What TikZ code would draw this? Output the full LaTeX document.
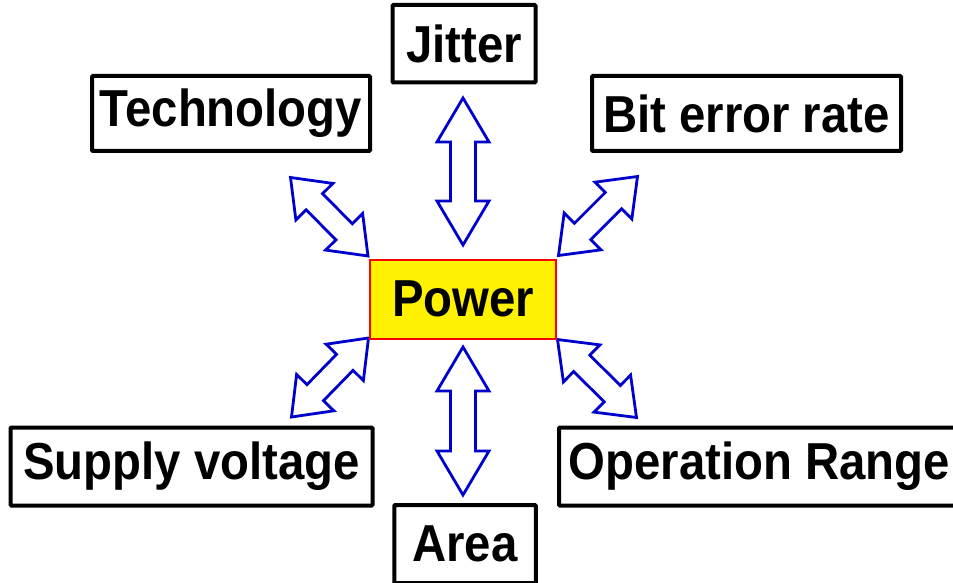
\documentclass[tikz,border=0pt]{standalone}
\usepackage{fontspec}
\setmainfont{Liberation Sans}
\usepackage{graphicx}
\usetikzlibrary{calc}
\definecolor{arrblue}{RGB}{0,0,204}
\newcommand\boxtxt[1]{\scalebox{0.91}[1]{\fontsize{52}{52}\selectfont\bfseries #1}}
% double hollow arrow: #1,#2 tips, #3 head length, #4 head half width, #5 shaft half width
\newcommand\dblarr[5]{%
  \draw[dbl] (#1) -- ($(#1)!#3!(#2)!#4!90:(#2)$) -- ($(#1)!#3!(#2)!#5!90:(#2)$)
    -- ($(#2)!#3!(#1)!#5!-90:(#1)$) -- ($(#2)!#3!(#1)!#4!-90:(#1)$) -- (#2)
    -- ($(#2)!#3!(#1)!#4!90:(#1)$) -- ($(#2)!#3!(#1)!#5!90:(#1)$)
    -- ($(#1)!#3!(#2)!#5!-90:(#2)$) -- ($(#1)!#3!(#2)!#4!-90:(#2)$) -- cycle;}
\begin{document}
\begin{tikzpicture}[x=1pt,y=-1pt,
  box/.style={draw=black, line width=4pt, fill=white, inner sep=0pt, rounded corners=1pt},
  dbl/.style={draw=arrblue, line width=2.8pt, fill=white, line join=miter}]
\useasboundingbox (0,0) rectangle (953,583);
\clip (0,0) rectangle (953,583);
% arrow end points
\coordinate (ua) at (463,98);
\coordinate (ub) at (463,245);
\coordinate (da) at (463,347);
\coordinate (db) at (463,495);
\coordinate (tla) at (290.5,177.5);
\coordinate (tlb) at (368,256);
\coordinate (tra) at (637.5,176.5);
\coordinate (trb) at (558.5,255.5);
\coordinate (bla) at (368.5,338);
\coordinate (blb) at (291.5,417);
\coordinate (bra) at (557.5,339.5);
\coordinate (brb) at (636.5,417.5);
\dblarr{ua}{ub}{44pt}{26pt}{12.5pt}
\dblarr{da}{db}{44pt}{26pt}{12.5pt}
\dblarr{tla}{tlb}{34pt}{26pt}{11.5pt}
\dblarr{tra}{trb}{34pt}{26pt}{11.5pt}
\dblarr{bla}{blb}{34pt}{26pt}{11.5pt}
\dblarr{bra}{brb}{34pt}{26pt}{11.5pt}
% boxes
\node[box, minimum width=143pt, minimum height=77.5pt] (jit) at (464,43.75) {\boxtxt{Jitter}};
\node[box, minimum width=278pt, minimum height=75pt] (tech) at (231,113.5) {\boxtxt{Technology}};
\node[box, minimum width=309pt, minimum height=75pt] (ber) at (746.5,113.5) {\boxtxt{Bit error rate}};
\node[box, minimum width=362pt, minimum height=78pt] (sup) at (191.5,466.5) {\boxtxt{Supply voltage}};
\node[box, minimum width=401pt, minimum height=78pt] (op) at (759.5,466.5) {\boxtxt{Operation Range}};
\node[box, minimum width=141.5pt, minimum height=78pt] (area) at (465,544) {\boxtxt{Area}};
\node[draw=red, line width=2pt, fill=yellow, minimum width=186pt, minimum height=79pt, inner sep=0pt] (pow) at (463,299) {\boxtxt{Power}};
\end{tikzpicture}
\end{document}
